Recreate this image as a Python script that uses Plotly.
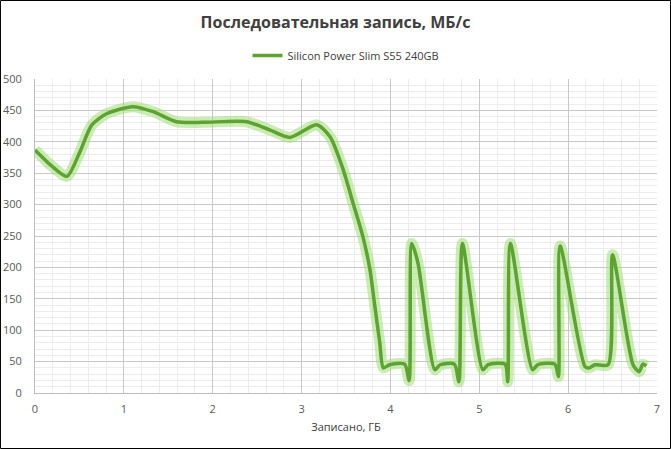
import plotly.graph_objects as go

series_name = "Silicon Power Slim S55 240GB"
title_text = "Последовательная запись, МБ/с"
x_title = "Записано, ГБ"

written_gb = [0.0, 0.2, 0.36, 0.5, 0.64, 0.81, 1.1, 1.33, 1.59, 1.89, 2.38, 2.64, 2.87, 3.17,
              3.32, 3.47, 3.58, 3.69, 3.77, 3.82, 3.88, 3.92, 3.99, 4.16, 4.21, 4.24, 4.31, 4.5,
              4.56, 4.72, 4.77, 4.81, 5.04, 5.1, 5.29, 5.32, 5.35, 5.6, 5.66, 5.85, 5.89, 5.91,
              6.19, 6.24, 6.3, 6.45, 6.5, 6.73, 6.8, 6.84, 6.88]
speed_mbs = [387, 360, 345, 382, 427, 445, 456, 448, 432, 431, 432, 419, 407, 427,
             408, 355, 302, 249, 196, 143, 80, 40, 45, 46, 20, 238, 207, 37,
             45, 46, 18, 238, 37, 45, 46, 18, 238, 37, 45, 46, 26, 234,
             42, 40, 45, 45, 220, 45, 34, 46, 43]

fig = go.Figure()
fig.add_trace(go.Scatter(x=written_gb, y=speed_mbs, mode="lines", showlegend=False,
                         hoverinfo="skip",
                         line=dict(color="rgba(160,220,120,0.55)", width=11, shape="spline", smoothing=0.7)))
fig.add_trace(go.Scatter(x=written_gb, y=speed_mbs, mode="lines", name=series_name,
                         line=dict(color="#5ca32f", width=3.5, shape="spline", smoothing=0.7)))

fig.update_layout(
    width=671, height=449,
    margin=dict(l=35, r=14, t=79, b=56),
    paper_bgcolor="white", plot_bgcolor="white",
    font=dict(family="Open Sans", color="#595959", size=11),
    title=dict(text="<b>" + title_text + "</b>", x=0.5, xanchor="center", y=0.950, yanchor="middle",
               font=dict(size=16, color="#404040", family="Open Sans")),
    legend=dict(orientation="h", x=0.5, xanchor="center", y=1.075, yanchor="middle",
                font=dict(size=11, color="#404040"), bgcolor="rgba(0,0,0,0)"),
    xaxis=dict(range=[0, 7], dtick=1, tick0=0, showgrid=True, gridcolor="#c8c8c8", gridwidth=1,
               minor=dict(dtick=0.2, showgrid=True, gridcolor="#ececec"),
               zeroline=False, showline=True, linecolor="#bfbfbf", ticks="",
               ticklabelstandoff=6,
               title=dict(text=x_title, font=dict(size=11, color="#404040"), standoff=8),
               tickfont=dict(size=11, color="#595959"), automargin=False),
    yaxis=dict(range=[0, 500], dtick=50, showgrid=True, gridcolor="#c8c8c8", gridwidth=1,
               minor=dict(dtick=10, showgrid=True, gridcolor="#ececec"),
               zeroline=False, showline=True, linecolor="#bfbfbf", ticks="",
               ticklabelstandoff=10,
               tickfont=dict(size=11, color="#595959"), automargin=False),
    shapes=[dict(type="rect", xref="paper", yref="paper",
                 x0=-0.0555, x1=1.0217, y0=-0.1768, y1=1.2500,
                 line=dict(color="black", width=1), fillcolor="rgba(0,0,0,0)", layer="above")],
)

fig.write_html("out.html", config={"displayModeBar": False},
               post_script="document.body.style.margin='0';document.body.style.overflow='hidden';")
